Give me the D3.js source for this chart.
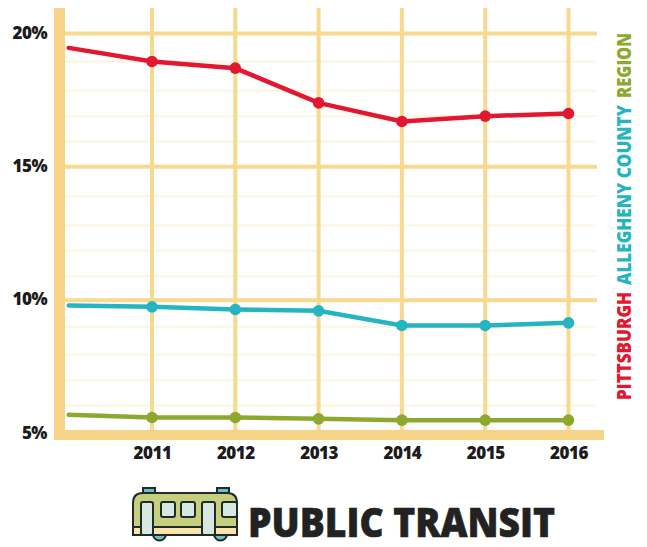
<!DOCTYPE html>
<html>
<head>
<meta charset="utf-8">
<script src="https://cdn.jsdelivr.net/npm/d3@7"></script>
<style>
html, body { margin: 0; padding: 0; background: #fff; }
svg { display: block; }
.tick text { font-family: "Open Sans", sans-serif; font-weight: 800; font-size: 17px; letter-spacing: -0.5px; fill: #1c1c1c; }
</style>
</head>
<body>
<div id="chart-area"></div>
<script>
var years = [2010, 2011, 2012, 2013, 2014, 2015, 2016];
var yearLabels = [2011, 2012, 2013, 2014, 2015, 2016];
var pittsburgh = [19.46, 18.95, 18.7, 17.4, 16.7, 16.9, 17.0];
var allegheny = [9.8, 9.75, 9.65, 9.6, 9.05, 9.05, 9.15];
var region = [5.7, 5.6, 5.6, 5.55, 5.5, 5.5, 5.5];
var majorTicks = [5, 10, 15, 20];
var minorTicks = [6.05, 7, 7.95, 9, 10.9, 11.85, 12.8, 13.9, 15.95, 16.9, 17.85, 18.95];
var seriesNames = ["PITTSBURGH", "ALLEGHENY COUNTY", "REGION"];
var seriesColors = ["#e3172f", "#25b4c0", "#8ea82f"];

var width = 647, height = 547;
var gridColor = "#f7d98f", bandColor = "#f5d487", faintColor = "#fbf4df";

var svg = d3.select("#chart-area").append("svg")
	.attr("width", width)
	.attr("height", height);

var x = d3.scaleLinear().domain([2011, 2016]).range([152, 568.5]);
var y = d3.scaleLinear().domain([5, 20]).range([433.5, 33.5]);

// faint 1% lines
svg.selectAll(".minor").data(minorTicks).enter().append("line")
	.attr("class", "minor")
	.attr("x1", 65).attr("x2", 596)
	.attr("y1", (d) => y(d)).attr("y2", (d) => y(d))
	.attr("stroke", faintColor).attr("stroke-width", 2);

svg.selectAll(".major").data(majorTicks.slice(1)).enter().append("line")
	.attr("class", "major")
	.attr("x1", 65).attr("x2", 597)
	.attr("y1", (d) => y(d)).attr("y2", (d) => y(d))
	.attr("stroke", gridColor).attr("stroke-width", 4);

svg.selectAll(".vert").data(yearLabels).enter().append("line")
	.attr("class", "vert")
	.attr("x1", (d) => x(d)).attr("x2", (d) => x(d))
	.attr("y1", 8).attr("y2", 431)
	.attr("stroke", gridColor).attr("stroke-width", 4);

// lines and dots
var line = d3.line()
	.x((d, i) => x(years[i]))
	.y((d) => y(d));

[pittsburgh, allegheny, region].forEach((values, s) => {
	svg.append("path")
		.attr("d", line(values))
		.attr("fill", "none")
		.attr("stroke", seriesColors[s])
		.attr("stroke-width", 4.5)
		.attr("stroke-linecap", "round");
	svg.selectAll(".dot" + s).data(values.slice(1)).enter().append("circle")
		.attr("class", "dot" + s)
		.attr("cx", (d, i) => x(years[i + 1]))
		.attr("cy", (d) => y(d))
		.attr("r", 5.8)
		.attr("fill", seriesColors[s]);
});

// thick axis bands sit over the start of the lines
svg.append("rect").attr("x", 54).attr("y", 8).attr("width", 11).attr("height", 432).attr("fill", bandColor);
svg.append("rect").attr("x", 54).attr("y", 430).attr("width", 550).attr("height", 10).attr("fill", bandColor);

var yAxis = d3.axisLeft(y).tickValues(majorTicks).tickFormat((d) => d + "%").tickSize(0).tickPadding(7);
svg.append("g").attr("transform", "translate(54,-0.7)").call(yAxis)
	.call((g) => g.select(".domain").remove());

var xAxis = d3.axisBottom(x).tickValues(yearLabels).tickFormat(d3.format("d")).tickSize(0).tickPadding(6.5);
svg.append("g").attr("transform", "translate(0,440)").call(xAxis)
	.call((g) => g.select(".domain").remove());

// rotated legend
var legendStarts = [400, 285, 98];
var legendLengths = [108, 180, 65];
seriesNames.forEach((name, i) => {
	svg.append("text")
		.attr("transform", "translate(630.5," + legendStarts[i] + ") rotate(-90)")
		.attr("font-family", "'Open Sans', sans-serif")
		.attr("font-weight", 800)
		.attr("font-size", 19.5)
		.attr("textLength", legendLengths[i])
		.attr("lengthAdjust", "spacingAndGlyphs")
		.attr("fill", seriesColors[i])
		.text(name);
});

// title
svg.append("text")
	.attr("x", 248).attr("y", 537)
	.attr("font-family", "'Open Sans', sans-serif")
	.attr("font-weight", 800)
	.attr("font-size", 41)
	.attr("textLength", 307)
	.attr("lengthAdjust", "spacingAndGlyphs")
	.attr("stroke", "#222")
	.attr("stroke-width", 0.6)
	.attr("fill", "#222")
	.text("PUBLIC TRANSIT");

// bus icon
var bus = svg.append("g").attr("stroke", "#1f2a2a").attr("stroke-width", 2);
[143, 217].forEach((vx) => {
	bus.append("rect").attr("x", vx).attr("y", 488).attr("width", 12).attr("height", 6).attr("fill", "#6fbfc4");
});
[159.5, 220.5].forEach((wx) => {
	bus.append("circle").attr("cx", wx).attr("cy", 534).attr("r", 6.5).attr("fill", "#6fbfc4");
});
bus.append("path")
	.attr("d", "M133 533V503Q133 493 143 493H227Q237 493 237 503V535H133Z")
	.attr("fill", "#c6cf7d");
bus.append("rect").attr("x", 133).attr("y", 527).attr("width", 104).attr("height", 8).attr("fill", "#f8e4a8");
[[141, 12], [202, 13]].forEach((door) => {
	bus.append("rect").attr("x", door[0]).attr("y", 502).attr("width", door[1]).attr("height", 33)
		.attr("rx", 2).attr("fill", "#d6e8df");
});
[[161, 14], [181, 14], [222, 15]].forEach((win) => {
	bus.append("rect").attr("x", win[0]).attr("y", 502).attr("width", win[1]).attr("height", 15)
		.attr("rx", 2).attr("fill", "#d6e8df");
});
</script>
</body>
</html>
